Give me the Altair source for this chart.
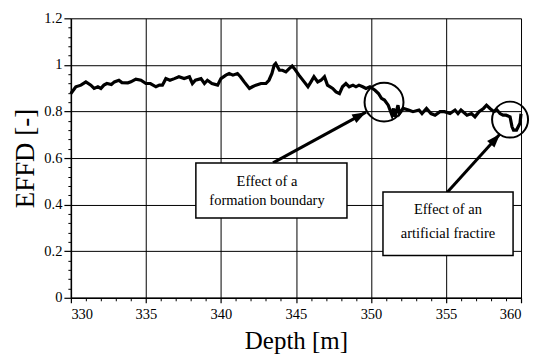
import math
import altair as alt
import pandas as pd

# ---- data ----
depth = [330.0, 330.33, 330.67, 331.0, 331.33, 331.55, 331.8, 332.0, 332.2, 332.4,
         332.7, 332.9, 333.2, 333.4, 333.8, 334.0, 334.33, 334.67, 335.0, 335.3,
         335.67, 335.9, 336.1, 336.33, 336.6, 336.9, 337.2, 337.55, 337.9, 338.1,
         338.3, 338.67, 338.9, 339.1, 339.4, 339.78, 340.0, 340.33, 340.55, 340.8,
         341.1, 341.3, 341.55, 341.9, 342.1, 342.33, 342.67, 343.0, 343.2, 343.4,
         343.55, 343.65, 343.9, 344.1, 344.33, 344.55, 344.75, 344.9, 345.2, 345.55,
         345.8, 346.0, 346.2, 346.45, 346.67, 346.9, 347.1, 347.45, 347.67, 347.9,
         348.1, 348.33, 348.55, 348.8, 349.0, 349.2, 349.45, 349.67, 349.93, 350.27,
         350.5, 350.7, 350.9, 351.15, 351.4, 351.5, 351.6, 351.8, 351.9, 352.15,
         352.5, 352.8, 353.2, 353.4, 353.7, 354.0, 354.27, 354.6, 354.9, 355.27,
         355.6, 355.8, 356.0, 356.4, 356.7, 356.93, 357.2, 357.5, 357.7, 357.93,
         358.2, 358.4, 358.6, 358.8, 359.0, 359.27, 359.4, 359.5, 359.7, 359.93, 360.0]
effd = [0.877, 0.906, 0.913, 0.927, 0.913, 0.899, 0.906, 0.899, 0.913, 0.920,
        0.916, 0.927, 0.934, 0.924, 0.923, 0.927, 0.939, 0.934, 0.920, 0.920,
        0.906, 0.913, 0.913, 0.941, 0.934, 0.941, 0.949, 0.941, 0.949, 0.920,
        0.934, 0.941, 0.920, 0.934, 0.920, 0.913, 0.941, 0.956, 0.963, 0.956,
        0.963, 0.949, 0.927, 0.899, 0.906, 0.913, 0.920, 0.920, 0.934, 0.963,
        0.999, 1.006, 0.977, 0.977, 0.970, 0.984, 0.995, 0.984, 0.956, 0.927,
        0.906, 0.927, 0.949, 0.927, 0.934, 0.949, 0.913, 0.899, 0.884, 0.877,
        0.906, 0.920, 0.906, 0.913, 0.906, 0.913, 0.906, 0.899, 0.906, 0.891,
        0.877, 0.856, 0.849, 0.827, 0.784, 0.813, 0.777, 0.827, 0.791, 0.813,
        0.806, 0.799, 0.806, 0.791, 0.813, 0.791, 0.784, 0.799, 0.799, 0.791,
        0.806, 0.791, 0.806, 0.784, 0.791, 0.777, 0.799, 0.813, 0.827, 0.813,
        0.799, 0.806, 0.791, 0.784, 0.784, 0.777, 0.734, 0.720, 0.720, 0.749, 0.790]

x_major = [330, 335, 340, 345, 350, 355, 360]
x_minor = [v for v in range(330, 361) if v % 5 != 0]
y_major = [0, 0.2, 0.4, 0.6, 0.8, 1.0, 1.2]
y_minor = [round(i * 0.04, 2) for i in range(31) if i % 5 != 0]

# annotations
circle_depth = [350.87, 359.27]
circle_value = [0.84, 0.765]
circle_size = [1521, 1300]

arrow_x0 = [343.47, 355.07]
arrow_y0 = [0.579, 0.452]
arrow_x1 = [349.67, 358.6]
arrow_y1 = [0.797, 0.703]

box_x0 = [338.33, 350.8]
box_x1 = [348.4, 359.47]
box_y0 = [0.579, 0.454]
box_y1 = [0.343, 0.182]

text_x = [343.07, 343.07, 355.13, 355.13]
text_y = [0.497, 0.416, 0.377, 0.274]
text_lines = ["Effect of a", "formation boundary", "Effect of an", "artificial fractire"]

W, H = 451, 280
FONT = "Liberation Serif"
XD = [330, 360]
YD = [0, 1.2]
px_x = W / (XD[1] - XD[0])
px_y = H / (YD[1] - YD[0])

df = pd.DataFrame({"depth": depth, "effd": effd})
xs = alt.Scale(domain=XD, nice=False, zero=False)
ys = alt.Scale(domain=YD, nice=False)

line = alt.Chart(df).mark_line(color="black", strokeWidth=3.2).encode(
    x=alt.X("depth:Q", scale=xs, axis=alt.Axis(
        orient="bottom", values=x_major, tickSize=5, tickWidth=1.2, labelPadding=5,
        grid=True, gridColor="black", gridOpacity=1, gridWidth=1,
        domainColor="black", domainWidth=1.5, tickColor="black",
        labelFont=FONT, labelFontSize=14.5, labelColor="black",
        title="Depth [m]", titleFont=FONT, titleFontSize=25, titleFontWeight="normal",
        titleColor="black", titlePadding=7)),
    y=alt.Y("effd:Q", scale=ys, axis=alt.Axis(
        orient="left", values=y_major, format="~g", tickSize=7, tickWidth=1.2,
        labelPadding=2, grid=True, gridColor="black", gridOpacity=1, gridWidth=1,
        domainColor="black", domainWidth=1.5, tickColor="black",
        labelFont=FONT, labelFontSize=14.5, labelColor="black",
        title="EFFD [-]", titleFont=FONT, titleFontSize=27, titleFontWeight="normal",
        titleColor="black", titlePadding=4)),
)

minor = alt.Chart(pd.DataFrame({"depth": [330], "effd": [0]})).mark_point(opacity=0).encode(
    x=alt.X("depth:Q", scale=xs, axis=alt.Axis(
        orient="bottom", values=x_minor, tickSize=3, labels=False, domain=False,
        grid=False, title=None, tickColor="black")),
    y=alt.Y("effd:Q", scale=ys, axis=alt.Axis(
        orient="left", values=y_minor, tickSize=3, labels=False, domain=False,
        grid=False, title=None, tickColor="black")),
)

cdf = pd.DataFrame({"depth": circle_depth, "effd": circle_value, "size": circle_size})
circles = alt.Chart(cdf).mark_point(shape="circle", filled=False, color="black",
                                     strokeWidth=2, opacity=1).encode(
    x=alt.X("depth:Q", scale=xs, axis=None), y=alt.Y("effd:Q", scale=ys, axis=None),
    size=alt.Size("size:Q", scale=None))

adf = pd.DataFrame({"x0": arrow_x0, "y0": arrow_y0, "x1": arrow_x1, "y1": arrow_y1})
adf["angle"] = [math.degrees(math.atan2((b - a) * px_x, (d - c) * px_y))
                for a, b, c, d in zip(arrow_x0, arrow_x1, arrow_y0, arrow_y1)]
shafts = alt.Chart(adf).mark_rule(color="black", strokeWidth=3).encode(
    x=alt.X("x0:Q", scale=xs, axis=None), y=alt.Y("y0:Q", scale=ys, axis=None),
    x2="x1:Q", y2="y1:Q")
heads = alt.Chart(adf).mark_point(shape="M0,0 L-0.36,1 L0.36,1 Z", filled=True,
                                  color="black", opacity=1, size=760).encode(
    x=alt.X("x1:Q", scale=xs, axis=None), y=alt.Y("y1:Q", scale=ys, axis=None),
    angle=alt.Angle("angle:Q", scale=None))

bdf = pd.DataFrame({"x0": box_x0, "x1": box_x1, "y0": box_y0, "y1": box_y1})
boxes = alt.Chart(bdf).mark_rect(fill="white", stroke="black", strokeWidth=1.5).encode(
    x=alt.X("x0:Q", scale=xs, axis=None), x2="x1:Q",
    y=alt.Y("y0:Q", scale=ys, axis=None), y2="y1:Q")

tdf = pd.DataFrame({"x": text_x, "y": text_y, "t": text_lines})
texts = alt.Chart(tdf).mark_text(font=FONT, fontSize=14.5, color="black",
                                 align="center", baseline="middle").encode(
    x=alt.X("x:Q", scale=xs, axis=None), y=alt.Y("y:Q", scale=ys, axis=None), text="t:N")

chart = alt.layer(line, minor, shafts, heads, boxes, texts, circles).resolve_axis(
    x="independent", y="independent"
).properties(
    width=W, height=H,
    autosize=alt.AutoSizeParams(type="none"),
    padding={"left": 63, "top": 10, "right": 10, "bottom": 56},
).configure_view(stroke="black", strokeWidth=1.5).configure(
    background="white", font=FONT
).configure_axis(labelFont=FONT, titleFont=FONT)

chart.save("out.html", embed_options={"renderer": "svg", "actions": False})
